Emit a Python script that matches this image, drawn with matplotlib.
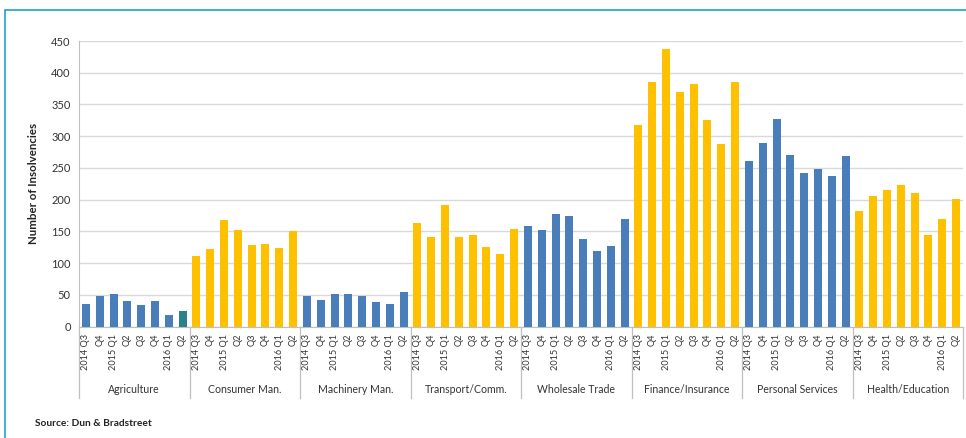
import matplotlib
matplotlib.use('Agg')
import matplotlib.pyplot as plt
from matplotlib.patches import Rectangle
import matplotlib.transforms as mtransforms

plt.rcParams['font.family'] = ['Lato', 'DejaVu Sans']

# Quarterly insolvencies by sector, 2014 Q3 - 2016 Q2
quarters = ['2014 Q3', 'Q4', '2015 Q1', 'Q2', 'Q3', 'Q4', '2016 Q1', 'Q2']
sectors = ['Agriculture', 'Consumer Man.', 'Machinery Man.', 'Transport/Comm.',
           'Wholesale Trade', 'Finance/Insurance', 'Personal Services', 'Health/Education']

agriculture = [35, 49, 51, 40, 34, 40, 19, 24]
consumer_man = [111, 122, 168, 152, 128, 130, 124, 150]
machinery_man = [49, 42, 52, 52, 49, 39, 36, 55]
transport_comm = [164, 142, 191, 141, 145, 126, 115, 154]
wholesale = [158, 153, 177, 174, 138, 120, 127, 169]
finance = [318, 386, 438, 370, 383, 325, 287, 386]
personal = [261, 290, 327, 271, 242, 249, 237, 269]
health = [183, 206, 216, 223, 210, 145, 169, 201]

series = [agriculture, consumer_man, machinery_man, transport_comm,
          wholesale, finance, personal, health]

BLUE = '#4a7ebb'
YELLOW = '#ffc000'
TEAL = '#2b808a'

fig = plt.figure(figsize=(9.66, 4.38), dpi=100)
ax = fig.add_axes([79 / 966, 1 - 326.7 / 438, 884 / 966, 285.7 / 438])

# light blue frame along top and left
fig.patches.append(Rectangle((4.5 / 966, -0.1), 2, 1 - 10.5 / 438 + 0.1,
                             transform=fig.transFigure, fill=False,
                             edgecolor='#1f9fd0', linewidth=1.2))

n = len(quarters)
for g, vals in enumerate(series):
    for q, v in enumerate(vals):
        if g % 2 == 0:
            c = TEAL if (g == 0 and q == n - 1) else BLUE
        else:
            c = YELLOW
        ax.bar(g * n + q + 0.5, v, width=0.58, color=c, zorder=3)

ax.set_xlim(0, n * len(sectors))
ax.set_ylim(0, 450)
ax.set_yticks(range(0, 451, 50))
ax.tick_params(axis='y', length=0, labelsize=8, pad=6, colors='#333333')
ax.set_xticks([])
ax.grid(axis='y', color='#d9d9d9', linewidth=1, zorder=0)
for s in ['top', 'right']:
    ax.spines[s].set_visible(False)
ax.spines['left'].set_color('#bfbfbf')
ax.spines['bottom'].set_color('#bfbfbf')

ax.set_ylabel('Number of Insolvencies', fontsize=8.3, fontweight='bold',
              labelpad=9, color='#222222')

trans = mtransforms.blended_transform_factory(ax.transData, ax.transAxes)
for g, name in enumerate(sectors):
    for q, lab in enumerate(quarters):
        ax.text(g * n + q + 0.5, -0.025, lab, transform=trans, rotation=90,
                ha='center', va='top', fontsize=6.6, color='#333333')
    ax.text(g * n + n / 2, -0.22, name, transform=trans, ha='center',
            va='center', fontsize=7.6, color='#333333')

# group separators under the axis
for k in range(len(sectors) + 1):
    ax.plot([k * n, k * n], [0, -0.25], transform=trans, color='#bfbfbf',
            linewidth=0.9, clip_on=False)

fig.text(35 / 966, 1 - 423 / 438, 'Source: Dun & Bradstreet', fontsize=7.3,
         fontweight='bold', va='center', ha='left', color='#222222')

fig.savefig('out.png', dpi=100)
